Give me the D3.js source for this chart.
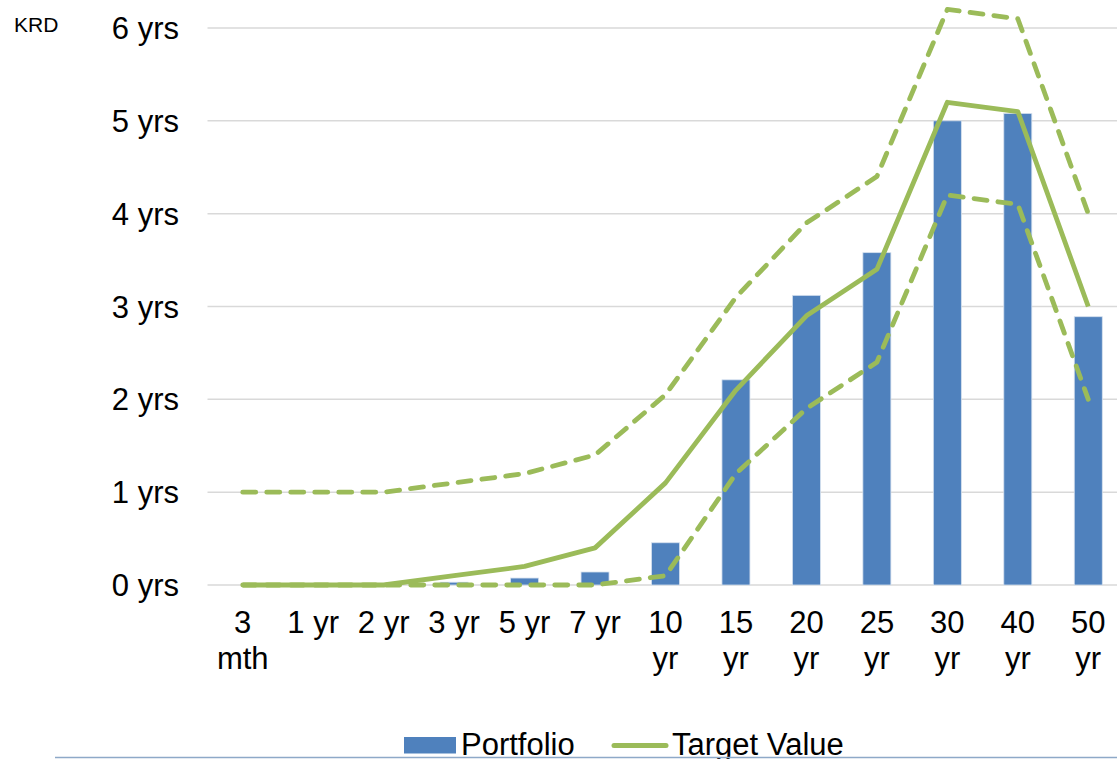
<!DOCTYPE html>
<html>
<head>
<meta charset="utf-8">
<script src="https://cdn.jsdelivr.net/npm/d3@7"></script>
<style>
  html, body { margin: 0; padding: 0; background: #fff; }
  svg { display: block; font-family: "Liberation Sans", Arial, sans-serif; }
</style>
</head>
<body>
<svg id="chart" width="1117" height="759"></svg>
<script>
// Key rate duration buckets (label lines)
const categories = [["3", "mth"], ["1 yr"], ["2 yr"], ["3 yr"], ["5 yr"], ["7 yr"], ["10", "yr"],
  ["15", "yr"], ["20", "yr"], ["25", "yr"], ["30", "yr"], ["40", "yr"], ["50", "yr"]];
const portfolio = [0, 0, 0.005, 0.03, 0.075, 0.14, 0.455, 2.21, 3.12, 3.58, 5.0, 5.08, 2.89];
const target =    [0, 0, 0, 0.1, 0.2, 0.4, 1.1, 2.1, 2.9, 3.4, 5.2, 5.1, 3.0];
const upperBand = [1, 1, 1, 1.1, 1.2, 1.4, 2.05, 3.1, 3.9, 4.4, 6.2, 6.1, 4.0];
const lowerBand = [0, 0, 0, 0, 0, 0, 0.1, 1.2, 1.9, 2.4, 4.2, 4.1, 2.0];
const yTicks = [0, 1, 2, 3, 4, 5, 6];

const blue = "#4F81BD", green = "#9BBB59", grid = "#D9D9D9";
const svg = d3.select("#chart");

const keys = categories.map((c, i) => i);
const x = d3.scaleBand().domain(keys).range([207.5, 1123.5]).paddingInner(0).paddingOuter(0);
const y = d3.scaleLinear().domain([0, 6]).range([585, 28]);

// gridlines
svg.append("g").selectAll("line").data(yTicks).join("line")
  .attr("x1", 207.5).attr("x2", 1123.5)
  .attr("y1", d => y(d)).attr("y2", d => y(d))
  .attr("stroke", grid).attr("stroke-width", 1.5);

// y tick labels
svg.append("g").selectAll("text").data(yTicks).join("text")
  .attr("x", 179).attr("y", d => y(d)).attr("dy", "0.36em")
  .attr("text-anchor", "end").attr("font-size", 31).attr("fill", "#000")
  .text(d => d + " yrs");

svg.append("text").attr("x", 14).attr("y", 32).attr("font-size", 21).attr("fill", "#000").text("KRD");

// bars
const bw = 28;
svg.append("g").selectAll("rect").data(portfolio).join("rect")
  .attr("x", (d, i) => x(i) + x.bandwidth() / 2 - bw / 2)
  .attr("width", bw)
  .attr("y", d => y(d))
  .attr("height", d => y(0) - y(d))
  .attr("fill", blue)
  .attr("stroke", "#D5E0EE").attr("stroke-width", 0.8);

// x category labels
const xl = svg.append("g").selectAll("text").data(categories).join("text")
  .attr("text-anchor", "middle").attr("font-size", 31).attr("fill", "#000");
xl.each(function(d, i) {
  const t = d3.select(this);
  d.forEach((ln, k) => {
    t.append("tspan").attr("x", x(i) + x.bandwidth() / 2).attr("y", 633 + k * 36).text(ln);
  });
});

// lines
const line = d3.line().x((d, i) => x(i) + x.bandwidth() / 2).y(d => y(d));
svg.append("path").datum(upperBand).attr("d", line).attr("fill", "none")
  .attr("stroke", green).attr("stroke-width", 4.8).attr("stroke-dasharray", "13,11")
  .attr("stroke-linecap", "round").attr("stroke-linejoin", "round");
svg.append("path").datum(lowerBand).attr("d", line).attr("fill", "none")
  .attr("stroke", green).attr("stroke-width", 4.8).attr("stroke-dasharray", "13,11")
  .attr("stroke-linecap", "round").attr("stroke-linejoin", "round");
svg.append("path").datum(target).attr("d", line).attr("fill", "none")
  .attr("stroke", green).attr("stroke-width", 4.8).attr("stroke-linejoin", "round");

// legend
const lg = svg.append("g");
lg.append("rect").attr("x", 404).attr("y", 737).attr("width", 52).attr("height", 16.5).attr("fill", blue);
lg.append("text").attr("x", 461).attr("y", 755).attr("font-size", 31).attr("fill", "#000").text("Portfolio");
lg.append("line").attr("x1", 614).attr("x2", 666).attr("y1", 745.5).attr("y2", 745.5)
  .attr("stroke", green).attr("stroke-width", 5).attr("stroke-linecap", "round");
lg.append("text").attr("x", 672).attr("y", 755).attr("font-size", 31).attr("fill", "#000").text("Target Value");

// bottom rule
svg.append("line").attr("x1", 55).attr("x2", 1117).attr("y1", 757.5).attr("y2", 757.5)
  .attr("stroke", "#8EA9C8").attr("stroke-width", 1.5);
</script>
</body>
</html>
